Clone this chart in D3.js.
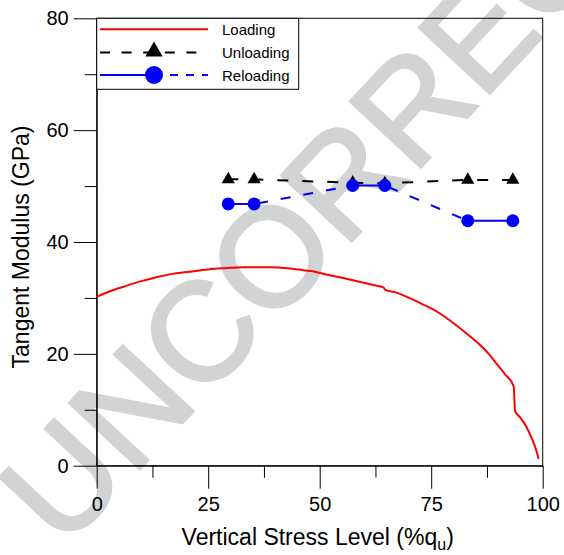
<!DOCTYPE html>
<html>
<head>
<meta charset="utf-8">
<script src="https://cdn.jsdelivr.net/npm/d3@7"></script>
<style>
  html, body { margin: 0; padding: 0; background: #fff; }
  svg { display: block; font-family: "Liberation Sans", Arial, sans-serif; }
</style>
</head>
<body>
<svg id="chart" width="564" height="555"></svg>
<script>
// ---- data ----
const loadX = [0, 3, 6, 10, 13.4, 17, 20.9, 25, 28.3, 33, 38.8, 44, 48, 51.5, 55, 58.9, 62, 64.3, 64.6, 67, 70.1, 73, 76.8, 79.8, 83, 85.8, 88, 89.5, 91.5, 93.5, 93.8, 95, 96.3, 97.7, 98.5, 99.1];
const loadY = [30.2, 31.2, 32.0, 33.0, 33.7, 34.3, 34.7, 35.1, 35.3, 35.5, 35.5, 35.2, 34.8, 34.2, 33.6, 32.9, 32.3, 31.9, 31.5, 31.0, 30.0, 28.9, 27.3, 25.6, 23.6, 21.7, 19.9, 18.4, 16.4, 14.2, 9.8, 8.6, 7.0, 4.6, 2.9, 1.2];
const stepX = [29.5, 35.3, 57.4, 64.6, 83.2, 93.3];
const unloadY = [51.2, 51.2, 50.6, 50.5, 51.1, 51.1];
const reloadY = [46.8, 46.8, 50.1, 50.1, 43.8, 43.8];
const xTicks = [0, 25, 50, 75, 100];
const xMinor = [12.5, 37.5, 62.5, 87.5];
const yTicks = [0, 20, 40, 60, 80];
const yMinor = [10, 30, 50, 70];
const legendNames = ["Loading", "Unloading", "Reloading"];

// ---- layout ----
const svg = d3.select("#chart");
const L = 96.7, R = 542.7, T = 18.3, B = 465.7;
const x = d3.scaleLinear().domain([0, 100]).range([L, R]);
const y = d3.scaleLinear().domain([0, 80]).range([B, T]);

// watermark (behind everything)
svg.append("text")
  .attr("transform", "translate(63,551) rotate(-47)")
  .attr("font-size", 140)
  .attr("fill", "#d2d3d5")
  .attr("stroke", "#d2d3d5").attr("stroke-width", 3)
  .text("UNCORRECTED PROOF");

// axes
svg.append("g").attr("transform", `translate(0,${B})`)
  .call(d3.axisBottom(x).tickValues(xTicks).tickSize(23).tickPadding(8).tickSizeOuter(0));
svg.append("g").attr("transform", `translate(0,${B})`)
  .call(d3.axisBottom(x).tickValues(xMinor).tickSize(12).tickFormat("").tickSizeOuter(0))
  .call(g => g.select(".domain").remove());
svg.append("g").attr("transform", `translate(${L},0)`)
  .call(d3.axisLeft(y).tickValues(yTicks).tickSize(23).tickPadding(5).tickSizeOuter(0));
svg.append("g").attr("transform", `translate(${L},0)`)
  .call(d3.axisLeft(y).tickValues(yMinor).tickSize(12).tickFormat("").tickSizeOuter(0))
  .call(g => g.select(".domain").remove());
svg.selectAll(".tick text").attr("font-size", 20).attr("font-family", "Liberation Sans, Arial, sans-serif").attr("fill", "#000");
svg.selectAll(".tick line, .domain").attr("stroke", "#000").attr("stroke-width", 1);

// frame
svg.append("rect").attr("x", L).attr("y", T).attr("width", R - L).attr("height", B - T)
  .attr("fill", "none").attr("stroke", "#000").attr("stroke-width", 1);

// axis titles
svg.append("text").attr("x", (L + R) / 2 - 2).attr("y", 545).attr("text-anchor", "middle")
  .attr("font-size", 23)
  .call(t => {
    t.append("tspan").text("Vertical Stress Level (%q");
    t.append("tspan").attr("font-size", 16).attr("dy", 5).text("u");
    t.append("tspan").attr("dy", -5).text(")");
  });
svg.append("text").attr("transform", `translate(29,${(T + B) / 2 + 5}) rotate(-90)`)
  .attr("text-anchor", "middle").attr("font-size", 23).text("Tangent Modulus (GPa)");

// loading curve
const loadPts = loadX.map((v, i) => [v, loadY[i]]);
svg.append("path").datum(loadPts)
  .attr("fill", "none").attr("stroke", "#ff0000").attr("stroke-width", 2)
  .attr("d", d3.line().curve(d3.curveMonotoneX).x(d => x(d[0])).y(d => y(d[1])));

// unloading
const unPts = stepX.map((v, i) => [v, unloadY[i]]);
svg.append("path").datum(unPts)
  .attr("fill", "none").attr("stroke", "#000").attr("stroke-width", 2)
  .attr("stroke-dasharray", "11,14").attr("stroke-dashoffset", 1)
  .attr("d", d3.line().x(d => x(d[0])).y(d => y(d[1])));
svg.append("g").selectAll("path").data(unPts).join("path")
  .attr("transform", d => `translate(${x(d[0])},${y(d[1])})`)
  .attr("d", d3.symbol(d3.symbolTriangle, 75))
  .attr("fill", "#000");

// reloading
const rePts = stepX.map((v, i) => [v, reloadY[i]]);
const segs = d3.pairs(rePts).map((p, i) => ({ p, solid: i % 2 === 0 }));
svg.append("g").selectAll("path").data(segs).join("path")
  .attr("fill", "none").attr("stroke", "#0000ff").attr("stroke-width", 2)
  .attr("stroke-dasharray", d => d.solid ? null : "10,13")
  .attr("stroke-dashoffset", d => d.solid ? null : -4)
  .attr("d", d => d3.line().x(q => x(q[0])).y(q => y(q[1]))(d.p));
svg.append("g").selectAll("circle").data(rePts).join("circle")
  .attr("cx", d => x(d[0])).attr("cy", d => y(d[1])).attr("r", 6.5)
  .attr("fill", "#0000ff");

// legend
const lg = svg.append("g");
lg.append("rect").attr("x", L).attr("y", T).attr("width", 202).attr("height", 71)
  .attr("fill", "#fff").attr("stroke", "#000").attr("stroke-width", 1);
const rowY = [29.3, 52.5, 75];
const lx0 = 100, lx1 = 208, lxm = 154;
lg.append("line").attr("x1", lx0).attr("x2", lx1).attr("y1", rowY[0]).attr("y2", rowY[0])
  .attr("stroke", "#ff0000").attr("stroke-width", 2);
lg.append("line").attr("x1", lx0).attr("x2", lx1).attr("y1", rowY[1]).attr("y2", rowY[1])
  .attr("stroke", "#000").attr("stroke-width", 2).attr("stroke-dasharray", "10,11.6");
lg.append("path").attr("transform", `translate(${lxm},${rowY[1] - 1})`)
  .attr("d", d3.symbol(d3.symbolTriangle, 130)).attr("fill", "#000");
lg.append("line").attr("x1", lx0).attr("x2", lxm).attr("y1", rowY[2]).attr("y2", rowY[2])
  .attr("stroke", "#0000ff").attr("stroke-width", 2);
lg.append("line").attr("x1", lxm + 16).attr("x2", lx1).attr("y1", rowY[2]).attr("y2", rowY[2])
  .attr("stroke", "#0000ff").attr("stroke-width", 2).attr("stroke-dasharray", "8,8");
lg.append("circle").attr("cx", lxm).attr("cy", rowY[2]).attr("r", 9).attr("fill", "#0000ff");
lg.selectAll("text.lab").data(legendNames).join("text").attr("class", "lab")
  .attr("x", 222).attr("y", (d, i) => rowY[i] + 5.5).attr("font-size", 15).text(d => d);
</script>
</body>
</html>
